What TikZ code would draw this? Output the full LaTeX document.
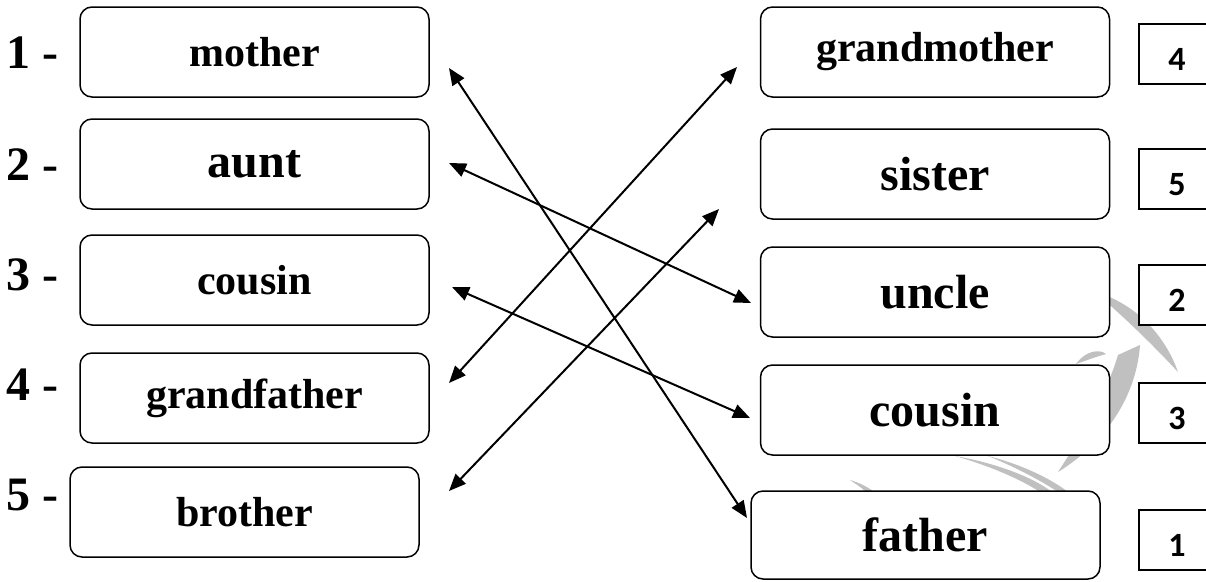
\documentclass[tikz,border=0pt]{standalone}
\usepackage{fontspec}
\setmainfont{Liberation Serif}
\newfontfamily\numfont{Carlito}
\usetikzlibrary{arrows.meta}
\definecolor{wm}{RGB}{192,192,192}
\tikzset{
  wordbox/.style={draw, line width=1.5pt, rounded corners=12pt, fill=white,
    minimum width=349pt, minimum height=90pt, inner sep=0pt, font=\bfseries},
  numbox/.style={draw, line width=1.3pt, fill=white, minimum width=76pt,
    minimum height=60pt, inner sep=0pt, text height=32pt, text depth=0pt,
    font=\numfont\bfseries\fontsize{34}{40}\selectfont},
  numlabel/.style={anchor=base west, inner sep=0pt,
    font=\bfseries\fontsize{48}{56}\selectfont},
  link/.style={line width=2pt,
    {Triangle[length=17pt,width=14pt]}-{Triangle[length=17pt,width=14pt]}},
  fs42/.style={font=\bfseries\fontsize{42}{50}\selectfont},
  fs48/.style={font=\bfseries\fontsize{48}{56}\selectfont}
}
\begin{document}
\begin{tikzpicture}[x=1pt,y=-1pt]
\clip (0,0) rectangle (1206,581);
\useasboundingbox (0,0) rectangle (1206,581);
% watermark
\fill[wm] (1095,292) .. controls (1135,303) and (1165,335) .. (1178,372)
  .. controls (1150,342) and (1125,318) .. cycle;
\fill[wm] (1140,345) .. controls (1136,400) and (1102,445) .. (1058,472)
  .. controls (1082,435) and (1106,395) .. (1118,355) -- cycle;
\fill[wm] (1076,364) .. controls (1086,350) and (1100,349) .. (1106,354)
  .. controls (1095,357) and (1085,361) .. cycle;
\fill[wm] (955,456) .. controls (990,462) and (1030,475) .. (1052,492)
  -- (1040,492) .. controls (1020,479) and (990,466) .. cycle;
\fill[wm] (988,456) .. controls (1020,464) and (1050,478) .. (1068,492)
  -- (1058,492) .. controls (1040,480) and (1015,467) .. cycle;
\fill[wm] (850,480) .. controls (860,483) and (868,487) .. (874,492)
  -- (866,492) .. controls (862,488) and (856,484) .. cycle;

% left boxes
\node[wordbox, fs42] (mother) at (254.5,52) {mother};
\node[wordbox, fs48] (aunt) at (254.5,164) {aunt};
\node[wordbox, fs42] (cousinL) at (254.5,280) {cousin};
\node[wordbox, fs42] (grandfather) at (254.5,398) {grandfather};
\node[wordbox, fs42] (brother) at (244.5,512) {brother};

% left numbers
\node[numlabel] (n1) at (6,68) {1 -};
\node[numlabel] (n2) at (6,180) {2 -};
\node[numlabel] (n3) at (6,290) {3 -};
\node[numlabel] (n4) at (6,400) {4 -};
\node[numlabel] (n5) at (6,510) {5 -};

% right boxes
\node[wordbox, fs42] (grandmother) at (935,52) {grandmother};
\node[wordbox, fs48] (sister) at (935,174) {sister};
\node[wordbox, fs48] (uncle) at (935,292) {uncle};
\node[wordbox, fs48] (cousinR) at (935,410) {cousin};
\node[wordbox, fs48, minimum height=88pt] (father) at (925.5,535) {father};

% answer boxes
\node[numbox] (a4) at (1177,54) {4};
\node[numbox] (a5) at (1177,179) {5};
\node[numbox] (a2) at (1177,295) {2};
\node[numbox] (a3) at (1177,413) {3};
\node[numbox] (a1) at (1177,540) {1};

% connector ends
\coordinate (pm) at (449,68);
\coordinate (pa) at (449,163);
\coordinate (pc) at (452,287);
\coordinate (pg) at (449,383);
\coordinate (pb) at (449,491);
\coordinate (qgm) at (737,67);
\coordinate (qs) at (719,209);
\coordinate (qu) at (751,303);
\coordinate (qc) at (750,418);
\coordinate (qf) at (747,518);

\draw[link] (pm) -- (qf);
\draw[link] (pa) -- (qu);
\draw[link] (pc) -- (qc);
\draw[link] (pg) -- (qgm);
\draw[link] (pb) -- (qs);
\end{tikzpicture}
\end{document}
